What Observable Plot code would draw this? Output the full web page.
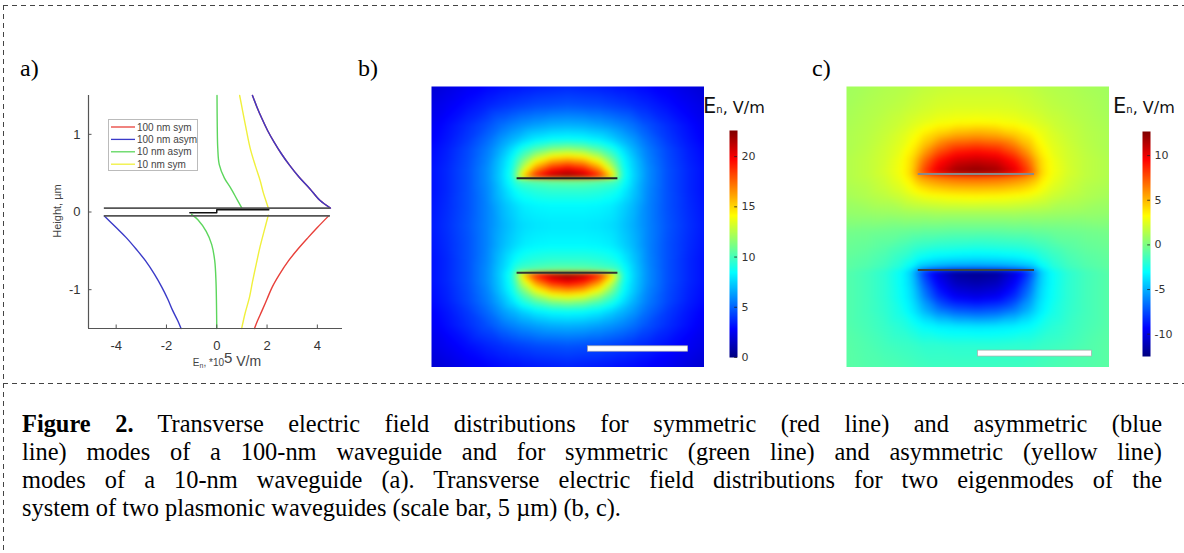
<!DOCTYPE html>
<html><head><meta charset="utf-8">
<script src="https://cdn.jsdelivr.net/npm/d3@7"></script>
<script src="https://cdn.jsdelivr.net/npm/@observablehq/plot@0.6"></script>
<style>
html,body{margin:0;padding:0;background:#fff;}
body{width:1184px;height:553px;position:relative;overflow:hidden;}
.abs{position:absolute;}
.cap{position:absolute;left:22px;top:410px;width:1140px;font-family:"Liberation Serif","Times New Roman",serif;font-size:24.4px;line-height:28px;color:#000;}
.cap .j{text-align:justify;text-align-last:justify;}
</style></head>
<body>
<svg id="overlay" class="abs" style="left:0;top:0" width="1184" height="553"></svg>
<div class="cap">
<div class="j"><b>Figure 2.</b> Transverse electric field distributions for symmetric (red line) and asymmetric (blue</div>
<div class="j">line) modes of a 100-nm waveguide and for symmetric (green line) and asymmetric (yellow line)</div>
<div class="j">modes of a 10-nm waveguide (a). Transverse electric field distributions for two eigenmodes of the</div>
<div>system of two plasmonic waveguides (scale bar, 5 µm) (b, c).</div>
</div>
<script>
// ---------- Panel a data ----------
const series = ["100 nm sym", "100 nm asym", "10 nm asym", "10 nm sym"];
const seriesColors = ["#e8403a", "#3a3ac8", "#5cd65c", "#f0f03c"];
const xTicksA = [-4, -2, 0, 2, 4];
const yTicksA = [-1, 0, 1];

const h100Top = [0.05, 0.15, 0.3, 0.45, 0.6, 0.75, 0.9, 1.05, 1.2, 1.35, 1.5];
const e100Top = [4.52, 4.1, 3.7, 3.27, 2.9, 2.57, 2.28, 2.02, 1.8, 1.6, 1.42];
const h100Bot = [-0.05, -0.2, -0.33, -0.48, -0.63, -0.8, -0.97, -1.12, -1.27, -1.4, -1.5];
const eSym100Bot = [4.45, 4.0, 3.63, 3.22, 2.85, 2.5, 2.2, 2.0, 1.8, 1.62, 1.5];
const eAsym100Bot = [-4.47, -4.0, -3.6, -3.2, -2.83, -2.48, -2.18, -1.95, -1.75, -1.55, -1.42];

const hAsym10Top = [0.05, 0.16, 0.31, 0.44, 0.61, 0.82, 1.1, 1.5];
const eAsym10Top = [1.0, 0.81, 0.55, 0.3, 0.1, 0.04, 0.02, 0.01];
const hAsym10Bot = [-0.03, -0.1, -0.25, -0.42, -0.63, -0.9, -1.2, -1.5];
const eAsym10Bot = [-1.0, -0.75, -0.42, -0.2, -0.08, -0.03, -0.01, 0];

const hSym10Top = [0.04, 0.1, 0.25, 0.4, 0.6, 0.82, 1.05, 1.3, 1.5];
const eSym10Top = [2.06, 2.0, 1.85, 1.73, 1.53, 1.33, 1.18, 1.03, 0.91];
const hSym10Bot = [-0.04, -0.25, -0.45, -0.67, -0.9, -1.1, -1.3, -1.5];
const eSym10Bot = [2.05, 1.88, 1.72, 1.57, 1.42, 1.3, 1.13, 0.99];

const guideH = [0.05, -0.05];
const guideE = [-4.47, 4.52];
const coreE = [-1.07, 0, 0, 2.07];
const coreH = [-0.01, -0.01, 0.03, 0.03];

// ---------- Panel b data (quarter grid, x>=0, y>=0; field is mirror-symmetric) ----------
const bCols = [0, 0.8, 1.6, 2.2, 2.5, 2.8, 3.3, 4, 5, 6, 6.9];
const bRows = [0, 1, 1.8, 2.3, 2.42, 2.8, 3.3, 3.8, 4.3, 5, 6, 7.1];
const bVals = [
  [8.0, 8.0, 7.9, 7.7, 7.5, 7.2, 6.7, 5.8, 4.7, 3.9, 3.3],
  [8.4, 8.4, 8.3, 8.1, 7.8, 7.5, 6.9, 5.8, 4.6, 3.8, 3.2],
  [9.6, 9.6, 9.4, 9.1, 8.8, 8.2, 7.3, 5.9, 4.6, 3.7, 3.1],
  [11.0, 10.9, 10.6, 10.3, 10.0, 8.8, 7.5, 6.0, 4.6, 3.7, 3.1],
  [22.5, 21.6, 19.2, 15.5, 12.0, 9.0, 7.6, 6.0, 4.6, 3.7, 3.1],
  [20.2, 19.3, 16.8, 13.2, 11.0, 8.9, 7.5, 6.0, 4.6, 3.7, 3.1],
  [16.0, 15.4, 13.4, 11.0, 9.8, 8.5, 7.3, 5.8, 4.5, 3.6, 3.0],
  [11.8, 11.4, 10.3, 9.2, 8.5, 7.8, 6.8, 5.6, 4.4, 3.5, 2.9],
  [8.6, 8.5, 8.1, 7.5, 7.1, 6.8, 6.2, 5.2, 4.1, 3.3, 2.7],
  [6.8, 6.7, 6.4, 6.1, 5.9, 5.7, 5.3, 4.6, 3.8, 3.1, 2.5],
  [4.7, 4.6, 4.5, 4.3, 4.2, 4.1, 3.9, 3.6, 3.1, 2.6, 2.2],
  [3.5, 3.4, 3.3, 3.2, 3.1, 3.1, 3.0, 2.8, 2.5, 2.1, 1.8]
];
const bStripY = [2.36, -2.36];
const bStripX = [-2.52, 2.52];
const bScaleBar = {x1: 1.03, x2: 6.03, y1: -6.31, y2: -6.04};
const bColorDomain = [0, 22.6];
const bTicks = [0, 5, 10, 15, 20];

// ---------- Panel c data (half grid, x>=0; mirror-symmetric in x) ----------
const cCols = [0, 0.9, 1.7, 2.3, 2.55, 2.85, 3.3, 4, 4.8, 5.85];
const cRows = [6.0, 5.0, 4.4, 3.8, 3.2, 2.7, 2.15, 2.05, 1.6, 1.1, 0.4, -0.4, -1.1, -1.6, -2.05, -2.15, -2.7, -3.3, -3.9, -4.6, -5.4, -6.4];
const cVals = [
  [1.9, 1.9, 1.8, 1.7, 1.6, 1.5, 1.4, 1.3, 1.1, 0.9],
  [2.4, 2.4, 2.3, 2.1, 2.0, 1.9, 1.7, 1.5, 1.3, 1.0],
  [3.2, 3.1, 2.9, 2.6, 2.5, 2.3, 2.0, 1.7, 1.4, 1.1],
  [5.7, 5.4, 4.6, 3.8, 3.3, 2.9, 2.4, 1.9, 1.5, 1.2],
  [8.8, 8.4, 7.0, 5.2, 4.3, 3.5, 2.7, 2.1, 1.6, 1.2],
  [10.9, 10.5, 9.0, 6.8, 5.5, 4.1, 3.0, 2.2, 1.7, 1.3],
  [12.6, 12.1, 10.3, 8.0, 6.4, 4.3, 3.1, 2.3, 1.7, 1.3],
  [7.8, 7.6, 7.0, 6.2, 5.5, 4.1, 3.0, 2.2, 1.7, 1.3],
  [5.5, 5.4, 5.0, 4.4, 4.0, 3.3, 2.6, 2.0, 1.5, 1.2],
  [3.3, 3.2, 3.0, 2.8, 2.6, 2.4, 2.0, 1.6, 1.3, 1.0],
  [1.1, 1.1, 1.1, 1.0, 1.0, 1.0, 0.9, 0.8, 0.7, 0.6],
  [-0.7, -0.7, -0.6, -0.6, -0.5, -0.5, -0.4, -0.3, -0.2, -0.1],
  [-2.3, -2.2, -2.1, -1.9, -1.8, -1.6, -1.3, -0.9, -0.6, -0.4],
  [-3.8, -3.7, -3.5, -3.1, -2.9, -2.4, -1.9, -1.3, -0.9, -0.6],
  [-6.0, -5.9, -5.5, -5.0, -4.6, -3.4, -2.4, -1.6, -1.1, -0.7],
  [-12.3, -11.9, -10.2, -8.0, -6.4, -4.3, -3.0, -2.0, -1.4, -0.9],
  [-11.3, -10.9, -9.3, -7.0, -5.6, -4.1, -3.0, -2.0, -1.4, -0.9],
  [-9.9, -9.5, -8.1, -6.0, -4.9, -3.8, -2.9, -2.0, -1.4, -0.9],
  [-7.3, -7.0, -6.1, -4.8, -4.1, -3.4, -2.6, -1.9, -1.4, -0.9],
  [-3.6, -3.5, -3.3, -3.0, -2.8, -2.5, -2.1, -1.7, -1.3, -0.9],
  [-2.0, -2.0, -1.9, -1.9, -1.8, -1.7, -1.6, -1.4, -1.1, -0.8],
  [-1.5, -1.5, -1.5, -1.4, -1.4, -1.3, -1.2, -1.1, -1.0, -0.8]
];
const cStripY = [2.1, -2.1];
const cStripX = [-2.55, 2.55];
const cScaleBar = {x1: 0.07, x2: 5.07, y1: -5.9, y2: -5.64};
const cColorDomain = [-12.5, 12.7];
const cTicks = [-10, -5, 0, 5, 10];

// ---------- helpers ----------
const jetStops = [0, 0.125, 0.375, 0.625, 0.875, 1];
const jetColors = ["#000080", "#0000ff", "#00ffff", "#ffff00", "#ff0000", "#800000"];
const jet = ([lo, hi]) => ({type: "linear", domain: jetStops.map(t => lo + t * (hi - lo)), range: jetColors, interpolate: "rgb", clamp: true});

function gridPoints(cols, rows, vals, mirrorX, mirrorY) {
  const pts = [];
  rows.forEach((y, i) => cols.forEach((x, j) => {
    const v = vals[i][j];
    const xs = mirrorX && x > 0 ? [x, -x] : [x];
    const ys = mirrorY && y > 0 ? [y, -y] : [y];
    for (const xx of xs) for (const yy of ys) pts.push({x: xx, y: yy, v});
  }));
  return pts;
}

function place(node, left, top) {
  node.style.position = "absolute";
  node.style.left = left + "px";
  node.style.top = top + "px";
  document.body.appendChild(node);
}

// ---------- Panel a ----------
const pairs = (e, h) => e.map((v, i) => [v, h[i]]);
const curveSets = [
  [0, pairs(e100Top, h100Top)], [0, pairs(eSym100Bot, h100Bot)],
  [1, pairs(e100Top, h100Top)], [1, pairs(eAsym100Bot, h100Bot)],
  [2, pairs(eAsym10Top, hAsym10Top)], [2, pairs(eAsym10Bot, hAsym10Bot)],
  [3, pairs(eSym10Top, hSym10Top)], [3, pairs(eSym10Bot, hSym10Bot)]
];
const plotA = Plot.plot({
  width: 360, height: 300,
  marginLeft: 88, marginRight: 18, marginTop: 15, marginBottom: 52,
  x: {domain: [-5.1, 5.0], ticks: xTicksA, tickSize: 0, tickPadding: 12, label: null, tickFormat: d => String(d)},
  y: {domain: [-1.5, 1.5], ticks: yTicksA, tickSize: 0, tickPadding: 8, label: null, tickFormat: d => String(d)},
  style: {fontFamily: "'Liberation Sans', Arial, sans-serif", fontSize: "13px", color: "#333", background: "none"},
  marks: [
    ...curveSets.map(([s, d]) => Plot.line(d, {x: d => d[0], y: d => d[1], stroke: seriesColors[s], strokeWidth: 1.4, curve: "catmull-rom"})),
    Plot.ruleY(guideH, {x1: guideE[0], x2: guideE[1], stroke: "#555", strokeWidth: 1.8}),
    Plot.line(pairs(coreE, coreH), {x: d => d[0], y: d => d[1], stroke: "#111", strokeWidth: 1.5}),
    Plot.ruleX([-5.1], {stroke: "#555", strokeWidth: 1.2}),
    Plot.ruleY([-1.5], {stroke: "#555", strokeWidth: 1.2}),
    Plot.ruleX(xTicksA, {y1: -1.5, y2: -1.455, stroke: "#555"}),
    Plot.ruleY(yTicksA, {x1: -5.1, x2: -4.96, stroke: "#555"})
  ]
});
place(plotA, 0, 80);

// ---------- Field panels ----------
function fieldPanel({pts, xd, yd, cd, stripY, stripX, stripColors, bar, w, h}) {
  return Plot.plot({
    width: w, height: h, margin: 0,
    x: {domain: xd, axis: null}, y: {domain: yd, axis: null},
    color: jet(cd),
    style: {background: "none"},
    marks: [
      Plot.raster(pts, {x: "x", y: "y", fill: "v", interpolate: "barycentric", x1: xd[0], x2: xd[1], y1: yd[0], y2: yd[1], blur: 2}),
      Plot.ruleY(stripY, {x1: stripX[0], x2: stripX[1], stroke: (d, i) => stripColors[i], strokeWidth: 2}),
      Plot.rect([bar], {x1: "x1", x2: "x2", y1: "y1", y2: "y2", fill: "#fff", stroke: "#aaa", strokeWidth: 0.7})
    ]
  });
}
function colorBar({cd, ticks, w, h, mt, mb, ml}) {
  return Plot.plot({
    width: w, height: h, marginLeft: ml, marginRight: w - ml - 8, marginTop: mt, marginBottom: mb,
    x: {domain: [0, 1], axis: null},
    y: {domain: cd, ticks, axis: "right", tickSize: 0, tickPadding: 4, label: null, tickFormat: d => String(d)},
    color: jet(cd),
    style: {fontFamily: "'DejaVu Sans', Verdana, sans-serif", fontSize: "11px", color: "#333", background: "none"},
    marks: [
      Plot.raster({x1: 0, x2: 1, y1: cd[0], y2: cd[1], width: 1, height: 300, fill: (x, y) => y}),
      Plot.ruleY(ticks, {x1: 0.65, x2: 1, stroke: "#222", strokeWidth: 0.8})
    ]
  });
}

const ptsB = gridPoints(bCols, bRows, bVals, true, true);
place(fieldPanel({pts: ptsB, xd: [-6.8, 6.85], yd: [-7.1, 6.95], cd: bColorDomain, stripY: bStripY, stripX: bStripX,
  stripColors: ["#222", "#333"], bar: bScaleBar, w: 273, h: 281}), 431, 86);
place(colorBar({cd: bColorDomain, ticks: bTicks, w: 70, h: 250, mt: 10, mb: 13, ml: 29}), 700, 120);

const ptsC = gridPoints(cCols, cRows, cVals, true, false);
place(fieldPanel({pts: ptsC, xd: [-5.7, 5.84], yd: [-6.38, 5.94], cd: cColorDomain, stripY: cStripY, stripX: cStripX,
  stripColors: ["#8a8a8a", "#3a4444"], bar: cScaleBar, w: 263, h: 281}), 846, 86);
place(colorBar({cd: cColorDomain, ticks: cTicks, w: 71, h: 250, mt: 11, mb: 14, ml: 29}), 1113, 120);

// ---------- Overlay: frame, panel labels, titles, legend ----------
const ov = d3.select("#overlay");
const dash = {stroke: "#444", "stroke-width": 1, "stroke-dasharray": "5,4"};
const addLine = (x1, y1, x2, y2) => { const l = ov.append("line").attr("x1", x1).attr("y1", y1).attr("x2", x2).attr("y2", y2); for (const k in dash) l.attr(k, dash[k]); };
addLine(3, 5.5, 1184, 5.5);
addLine(3.5, 5, 3.5, 553);
addLine(3, 383.5, 1184, 383.5);

const serif = "'Liberation Serif', 'Times New Roman', serif";
[["a)", 20], ["b)", 358], ["c)", 812]].forEach(([t, x]) =>
  ov.append("text").attr("x", x).attr("y", 76).attr("font-family", serif).attr("font-size", 24).text(t));

function title(x) {
  const t = ov.append("text").attr("x", x).attr("y", 113).attr("font-family", "'DejaVu Sans', Verdana, sans-serif").attr("fill", "#111");
  t.append("tspan").attr("font-size", 21).text("E");
  t.append("tspan").attr("font-size", 10).text("n");
  t.append("tspan").attr("font-size", 16).text(", V/m");
}
title(703);
title(1113);

// axis titles of panel a
const sans = "'Liberation Sans', Arial, sans-serif";
const xl = ov.append("text").attr("x", 227).attr("y", 366).attr("text-anchor", "middle").attr("font-family", sans).attr("fill", "#444");
xl.append("tspan").attr("font-size", 10).text("E");
xl.append("tspan").attr("font-size", 7).attr("dy", 2).text("n");
xl.append("tspan").attr("font-size", 10).attr("dy", -2).text(", *10");
xl.append("tspan").attr("font-size", 15).attr("dy", -3).text("5");
xl.append("tspan").attr("font-size", 14).attr("dy", 3).text(" V/m");
ov.append("text").attr("transform", "translate(61,211) rotate(-90)").attr("text-anchor", "middle")
  .attr("font-family", sans).attr("font-size", 11).attr("fill", "#444").text("Height, µm");

// legend of panel a
ov.append("rect").attr("x", 108.5).attr("y", 119.5).attr("width", 89).attr("height", 51).attr("fill", "none").attr("stroke", "#bbb");
series.forEach((s, i) => {
  const y = 127 + i * 12.4;
  ov.append("line").attr("x1", 111).attr("x2", 135).attr("y1", y).attr("y2", y).attr("stroke", seriesColors[i]).attr("stroke-width", 1.3);
  ov.append("text").attr("x", 137).attr("y", y + 3.5).attr("font-family", sans).attr("font-size", 10).attr("fill", "#444").text(s);
});
</script>
</body></html>
